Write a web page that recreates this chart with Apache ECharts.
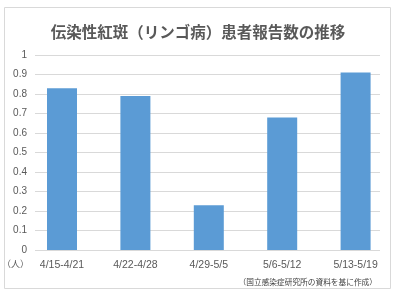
<!DOCTYPE html>
<html><head><meta charset="utf-8">
<script src="https://cdn.jsdelivr.net/npm/echarts@6/dist/echarts.min.js"></script>
<style>html,body{margin:0;padding:0;background:#fff}#c{width:396px;height:294px}</style>
</head><body><div id="c"></div>
<script>
const categories = ['4/15-4/21','4/22-4/28','4/29-5/5','5/6-5/12','5/13-5/19'];
const values = [0.83, 0.79, 0.23, 0.68, 0.91];
const yTicks = [0, 0.1, 0.2, 0.3, 0.4, 0.5, 0.6, 0.7, 0.8, 0.9, 1];
const titleText = '伝染性紅斑（リンゴ病）患者報告数の推移';
const unitText = '（人）';
const sourceText = '（国立感染症研究所の資料を基に作成）';

const chart = echarts.init(document.getElementById('c'), null, {renderer:'canvas'});
const font = '"Noto Sans CJK JP", "Liberation Sans", sans-serif';
const latin = '"Liberation Sans", sans-serif';
chart.setOption({
  animation: false,
  textStyle: {fontFamily: font},
  title: {text: titleText, left: 'center', top: 19,
    textStyle: {fontSize: 15.5, fontWeight: 'bold', color: '#595959', fontFamily: font}},
  grid: [
    {left: 35, right: 16, top: 55, bottom: 44, containLabel: false},
    {left: 25.3, right: 3.7, top: 55, bottom: 44, containLabel: false}
  ],
  xAxis: [
    {type: 'category', gridIndex: 0, data: categories, show: true,
      axisLine: {show: false}, axisTick: {show: false}, axisLabel: {show: false}},
    {type: 'category', gridIndex: 1, data: categories,
      axisLine: {show: false}, axisTick: {show: false},
      axisLabel: {color: '#595959', fontSize: 10.5, margin: 10, fontFamily: latin, interval: 0}}
  ],
  yAxis: [
    {type: 'value', gridIndex: 0, min: 0, max: 1, interval: 0.1,
      axisLine: {show: false}, axisTick: {show: false},
      splitLine: {lineStyle: {color: '#D9D9D9'}},
      axisLabel: {color: '#595959', fontSize: 10, margin: 8, fontFamily: latin,
        formatter: v => { const t = yTicks.find(x => Math.abs(x - v) < 1e-6); return t === undefined ? '' : String(t); }}},
    {type: 'value', gridIndex: 1, min: 0, max: 1, interval: 0.1, show: false,
      splitLine: {show: false}}
  ],
  series: [{type: 'bar', xAxisIndex: 1, yAxisIndex: 1, data: values, barWidth: 30, itemStyle: {color: '#5B9BD5'}}],
  graphic: [
    {type: 'rect', shape: {x: 4.5, y: 7.5, width: 386, height: 281}, style: {fill: 'none', stroke: '#D9D9D9', lineWidth: 1}, z: -1},
    {type: 'text', left: 2, top: 259, style: {text: unitText, fill: '#595959', fontSize: 9, fontFamily: font}},
    {type: 'text', right: 19, top: 278, style: {text: sourceText, fill: '#404040', fontSize: 7.7, fontFamily: font}}
  ]
});
</script></body></html>
